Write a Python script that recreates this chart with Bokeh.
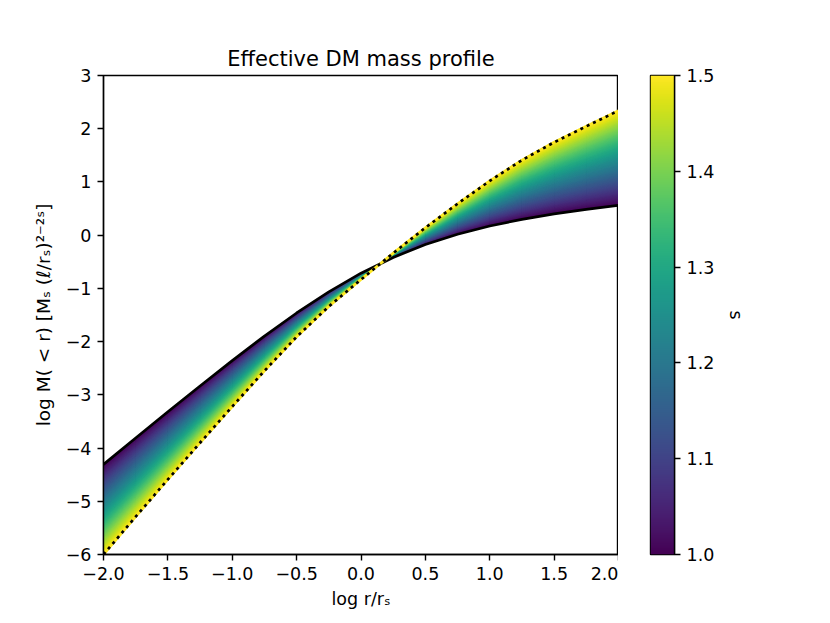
import numpy as np
from bokeh.plotting import figure
from bokeh.layouts import row
from bokeh.models import LinearColorMapper, FixedTicker, Range1d
from bokeh.palettes import Viridis256
from bokeh.embed import file_html
from bokeh.resources import INLINE

# ---------------- data ----------------
log_r = [-2.0, -1.75, -1.5, -1.25, -1.0, -0.75, -0.5, -0.25, 0.0,
         0.25, 0.5, 0.75, 1.0, 1.25, 1.5, 1.75, 2.0]
# s = 1.0 boundary curve (solid black)
log_m_s10 = [-4.307, -3.811, -3.319, -2.833, -2.357, -1.897, -1.462, -1.064, -0.714,
             -0.418, -0.176, 0.018, 0.173, 0.298, 0.401, 0.486, 0.559]
# s = 1.5 boundary curve (dotted black)
log_m_s15 = [-6.00, -5.29, -4.59, -3.90, -3.22, -2.55, -1.91, -1.34, -0.834,
             -0.338, 0.14, 0.59, 1.02, 1.41, 1.745, 2.045, 2.34]
s_min, s_max = 1.0, 1.5

x_ticks = [-2.0, -1.5, -1.0, -0.5, 0.0, 0.5, 1.0, 1.5, 2.0]
x_tick_labels = ["−2.0", "−1.5", "−1.0", "−0.5", "0.0", "0.5", "1.0", "1.5", "2.0"]
y_ticks = [-6, -5, -4, -3, -2, -1, 0, 1, 2, 3]
y_tick_labels = ["−6", "−5", "−4", "−3", "−2", "−1", "0", "1", "2", "3"]
cb_ticks = [1.0, 1.1, 1.2, 1.3, 1.4, 1.5]
cb_tick_labels = ["1.0", "1.1", "1.2", "1.3", "1.4", "1.5"]

title_text = "Effective DM mass profile"
x_label = "log r/rₛ"
y_label = "log M( < r) [Mₛ (ℓ/rₛ)²⁻²ˢ]"
cb_label = "s"

FONT = "DejaVu Sans"
TICK_SIZE = "17.5px"

x = np.array(log_r)
lo = np.array(log_m_s10)
hi = np.array(log_m_s15)

mapper = LinearColorMapper(palette=Viridis256, low=s_min, high=s_max)

# ---------------- main figure ----------------
p = figure(frame_width=515, frame_height=479,
           x_range=Range1d(-2, 2), y_range=Range1d(-6, 3),
           output_backend="svg", toolbar_location=None,
           min_border_left=103, min_border_right=0,
           min_border_top=75, min_border_bottom=57,
           title=title_text)
p.title.align = "center"
p.title.text_font = FONT
p.title.text_font_size = "21px"
p.title.text_font_style = "normal"
p.title.text_color = "black"
p.xgrid.visible = False
p.ygrid.visible = False
p.background_fill_color = "white"
p.border_fill_color = "white"
p.outline_line_color = "black"
p.outline_line_width = 1.4
p.outline_line_alpha = 1.0

# gradient fill: stacked bands between the s=1 and s=1.5 boundaries
n_bands = 120
xs, ys, cols = [], [], []
for k in range(n_bands):
    t0 = k / n_bands
    s_mid = s_min + (s_max - s_min) * (k + 0.5) / n_bands
    lower = lo + t0 * (hi - lo)
    xs.append(np.concatenate([x, x[::-1]]))
    ys.append(np.concatenate([lower, hi[::-1]]))
    idx = min(255, int((s_mid - s_min) / (s_max - s_min) * 256))
    cols.append(Viridis256[idx])
p.patches(xs, ys, fill_color=cols, line_color=cols, line_width=0.6)

# boundary curves
p.line(x, lo, line_color="black", line_width=2.7)
p.line(x, hi, line_color=Viridis256[-1], line_width=2.7)
p.line(x, hi, line_color="black", line_width=2.7, line_dash="3 4", line_cap="butt")

for ax in (p.xaxis[0], p.yaxis[0]):
    ax.axis_line_width = 1.4
    ax.major_tick_line_width = 1.4
    ax.major_tick_out = 6
    ax.major_tick_in = 0
    ax.minor_tick_line_color = None
    ax.major_label_text_font = FONT
    ax.major_label_text_font_size = TICK_SIZE
    ax.major_label_text_color = "black"
    ax.axis_label_text_font = FONT
    ax.axis_label_text_font_size = TICK_SIZE
    ax.axis_label_text_font_style = "normal"
    ax.axis_label_text_color = "black"
    ax.major_label_standoff = 6

p.xaxis.ticker = FixedTicker(ticks=x_ticks)
p.xaxis.major_label_overrides = {t: l for t, l in zip(x_ticks, x_tick_labels)}
p.yaxis.ticker = FixedTicker(ticks=y_ticks)
p.yaxis.major_label_overrides = {t: l for t, l in zip(y_ticks, y_tick_labels)}
p.xaxis.axis_label = x_label
p.yaxis.axis_label = y_label
p.yaxis.axis_label_text_font_size = "18.5px"
p.xaxis.axis_label_standoff = 6
p.yaxis.axis_label_standoff = 9

# ---------------- colour bar ----------------
cb = figure(frame_width=24, frame_height=479,
            x_range=Range1d(0, 1), y_range=Range1d(s_min, s_max),
            output_backend="svg", toolbar_location=None,
            min_border_left=32, min_border_right=20,
            min_border_top=75, min_border_bottom=57,
            x_axis_location=None, y_axis_location="right")
cb.xgrid.visible = False
cb.ygrid.visible = False
cb.outline_line_color = "black"
cb.outline_line_width = 1.4
cb.outline_line_alpha = 1.0
grad = np.linspace(s_min, s_max, 256).reshape(256, 1)
cb.image(image=[grad], x=0, y=s_min, dw=1, dh=s_max - s_min, color_mapper=mapper)
ax = cb.yaxis[0]
ax.ticker = FixedTicker(ticks=cb_ticks)
ax.major_label_overrides = {t: l for t, l in zip(cb_ticks, cb_tick_labels)}
ax.axis_line_width = 1.4
ax.major_tick_line_width = 1.4
ax.major_tick_out = 6
ax.major_tick_in = 0
ax.minor_tick_line_color = None
ax.major_label_text_font = FONT
ax.major_label_text_font_size = TICK_SIZE
ax.major_label_text_color = "black"
ax.major_label_standoff = 6
ax.axis_label = cb_label
ax.axis_label_text_font = FONT
ax.axis_label_text_font_size = TICK_SIZE
ax.axis_label_text_font_style = "normal"
ax.axis_label_text_color = "black"
ax.axis_label_standoff = 9

layout = row(p, cb)
open("out.html", "w").write(file_html(layout, INLINE))
